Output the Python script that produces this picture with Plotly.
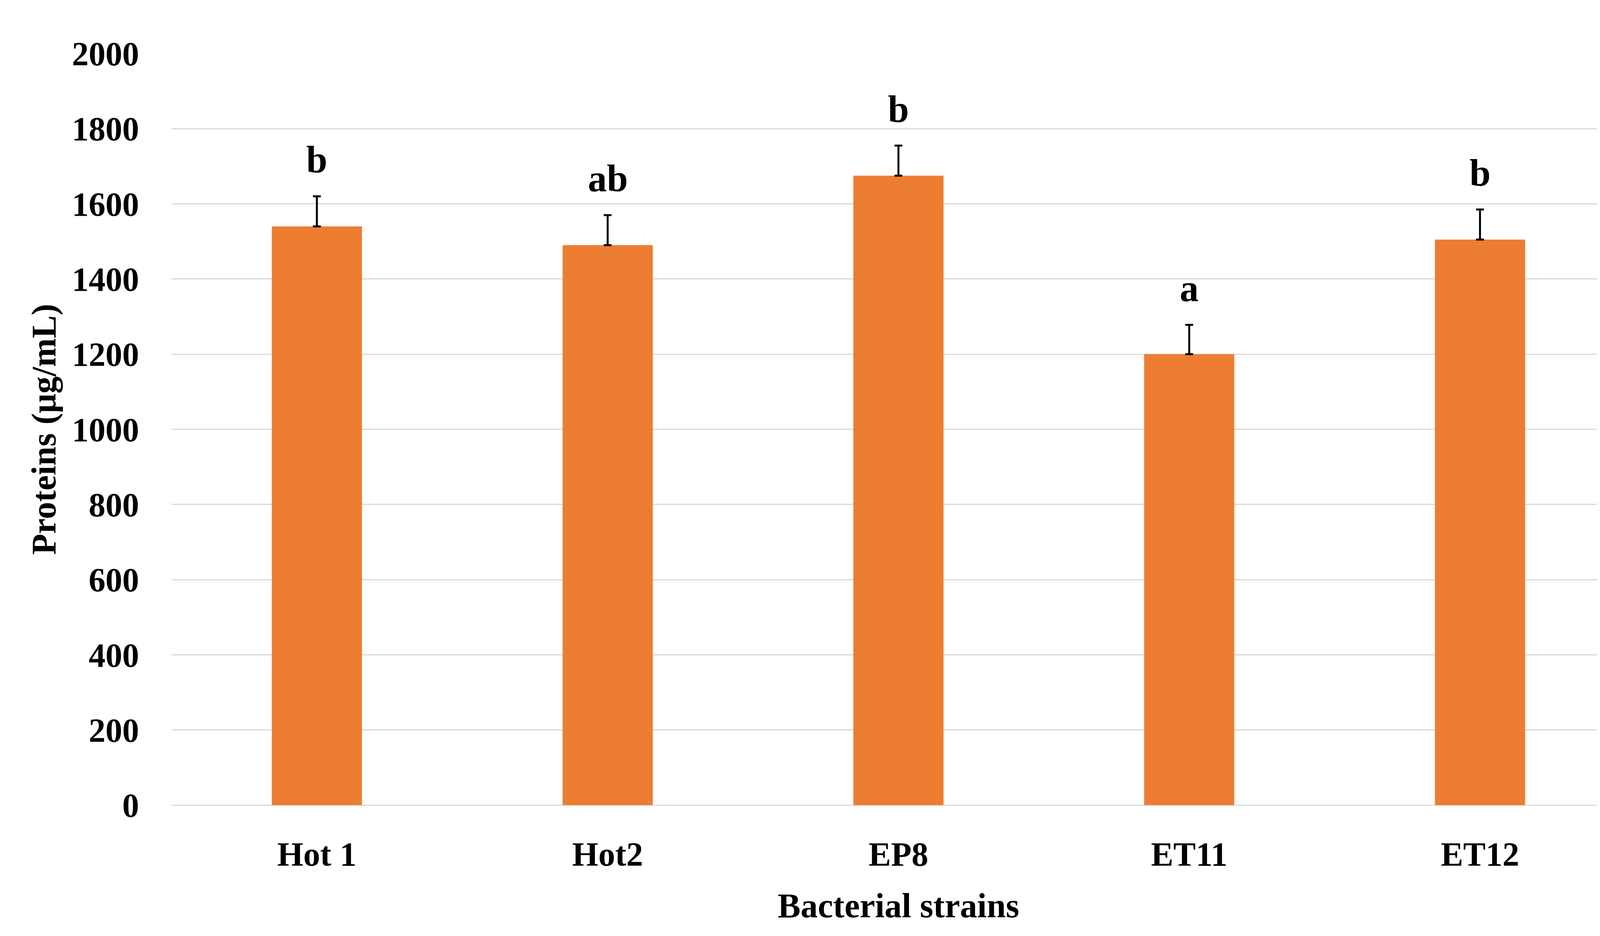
import plotly.graph_objects as go

strains = ["Hot 1", "Hot2", "EP8", "ET11", "ET12"]
proteins = [1540, 1490, 1675, 1200, 1505]
errors = [80, 80, 80, 78, 80]
letters = ["b", "ab", "b", "a", "b"]

FONT = "Liberation Serif"

fig = go.Figure()
fig.add_trace(go.Bar(
    x=strains, y=proteins, width=0.31,
    marker=dict(color="#ED7D31", line=dict(width=0)),
    error_y=dict(type="data", array=errors, symmetric=False, arrayminus=[0]*len(errors),
                 color="black", thickness=5, width=10),
))

for s, v, e, l in zip(strains, proteins, errors, letters):
    fig.add_annotation(x=s, y=v + e, text=f"<b>{l}</b>", showarrow=False,
                       yanchor="bottom", yshift=38,
                       font=dict(family=FONT, size=97, color="black"))

fig.update_layout(
    width=4201, height=2395,
    plot_bgcolor="white", paper_bgcolor="white",
    margin=dict(l=431, r=48, t=129, b=343),
    showlegend=False,
    font=dict(family=FONT, color="black"),
)
fig.update_yaxes(
    range=[0, 2000], dtick=200, showgrid=True, gridcolor="#d9d9d9", gridwidth=3,
    zeroline=True, zerolinecolor="#d9d9d9", zerolinewidth=3,
    showline=False, ticks="", ticklabelstandoff=82,
    tickfont=dict(family=FONT, size=86, color="black", weight="bold"),
    title=dict(text="<b>Proteins (μg/mL)</b>", font=dict(family=FONT, size=88, color="black"), standoff=12),
)
fig.update_xaxes(
    showgrid=False, showline=False, ticks="", ticklabelstandoff=68,
    tickfont=dict(family=FONT, size=86, color="black", weight="bold"),
    title=dict(text="<b>Bacterial strains</b>", font=dict(family=FONT, size=88, color="black"), standoff=52),
)

fig.write_html("out.html")
